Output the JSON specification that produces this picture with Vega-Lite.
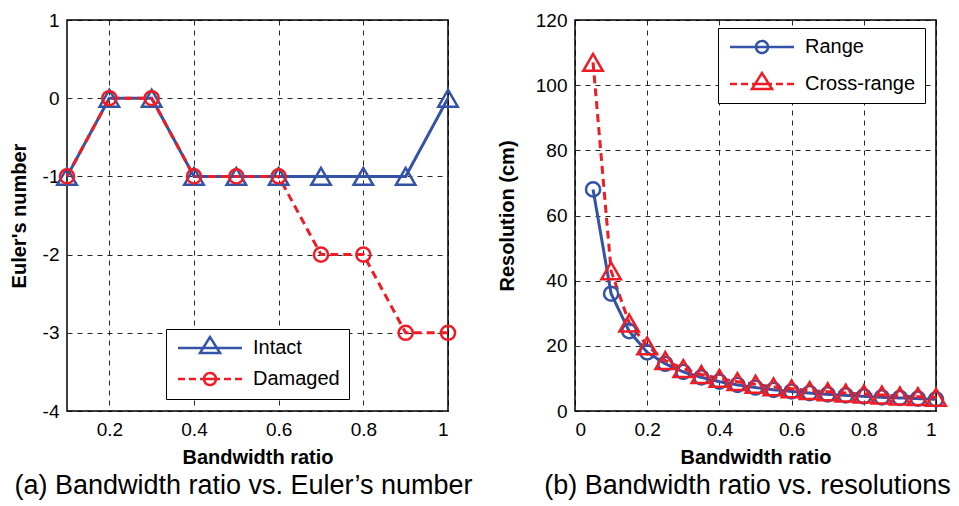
{
  "$schema": "https://vega.github.io/schema/vega-lite/v6.json",
  "background": "white",
  "padding": {"left": 8, "top": 10, "right": 2, "bottom": 0},
  "spacing": 22,
  "resolve": {
    "scale": {"color": "independent", "shape": "independent", "size": "independent", "strokeDash": "independent"},
    "legend": {"color": "independent"}
  },
  "config": {
    "font": "Liberation Sans",
    "view": {"stroke": "black", "strokeWidth": 1.5},
    "axis": {
      "labelFont": "Liberation Sans",
      "labelFontSize": 19,
      "labelColor": "black",
      "titleFont": "Liberation Sans",
      "titleFontSize": 20,
      "titleFontWeight": "bold",
      "titleColor": "black",
      "grid": true,
      "gridColor": "black",
      "gridDash": [5, 5],
      "gridWidth": 1,
      "gridOpacity": 0.85,
      "domain": false,
      "ticks": false,
      "labelPadding": 8
    },
    "axisX": {"labelPadding": 9, "titlePadding": 8},
    "legend": {
      "labelFont": "Liberation Sans",
      "labelFontSize": 20,
      "labelColor": "black",
      "strokeColor": "black",
      "fillColor": "white",
      "padding": 9,
      "symbolSize": 4,
      "symbolStrokeWidth": 2.5,
      "symbolOffset": 25,
      "labelOffset": 33,
      "rowPadding": 10
    },
    "title": {"font": "Liberation Sans", "fontSize": 27, "fontWeight": "normal", "color": "black"}
  },
  "hconcat": [
    {
      "width": 381,
      "height": 391,
      "title": {"text": "(a) Bandwidth ratio vs. Euler’s number", "orient": "bottom", "anchor": "middle", "frame": "group", "dx": -14, "offset": 6},
      "data": {
        "values": [
          {"x": 0.1, "y": -1, "series": "Intact"},
          {"x": 0.2, "y": 0, "series": "Intact"},
          {"x": 0.3, "y": 0, "series": "Intact"},
          {"x": 0.4, "y": -1, "series": "Intact"},
          {"x": 0.5, "y": -1, "series": "Intact"},
          {"x": 0.6, "y": -1, "series": "Intact"},
          {"x": 0.7, "y": -1, "series": "Intact"},
          {"x": 0.8, "y": -1, "series": "Intact"},
          {"x": 0.9, "y": -1, "series": "Intact"},
          {"x": 1.0, "y": 0, "series": "Intact"},
          {"x": 0.1, "y": -1, "series": "Damaged"},
          {"x": 0.2, "y": 0, "series": "Damaged"},
          {"x": 0.3, "y": 0, "series": "Damaged"},
          {"x": 0.4, "y": -1, "series": "Damaged"},
          {"x": 0.5, "y": -1, "series": "Damaged"},
          {"x": 0.6, "y": -1, "series": "Damaged"},
          {"x": 0.7, "y": -2, "series": "Damaged"},
          {"x": 0.8, "y": -2, "series": "Damaged"},
          {"x": 0.9, "y": -3, "series": "Damaged"},
          {"x": 1.0, "y": -3, "series": "Damaged"}
        ]
      },
      "encoding": {
        "x": {
          "field": "x", "type": "quantitative",
          "scale": {"domain": [0.1, 1], "nice": false, "zero": false},
          "axis": {"values": [0.2, 0.4, 0.6, 0.8, 1], "title": "Bandwidth ratio", "labelExpr": "'' + datum.value"}
        },
        "y": {
          "field": "y", "type": "quantitative",
          "scale": {"domain": [-4, 1], "nice": false},
          "axis": {"values": [-4, -3, -2, -1, 0, 1], "title": "Euler's number", "labelExpr": "'' + datum.value", "titlePadding": 13}
        },
        "color": {
          "field": "series", "type": "nominal",
          "scale": {"domain": ["Intact", "Damaged"], "range": ["#3353a6", "#ee1d25"]},
          "legend": {
            "title": null, "orient": "none", "legendX": 99, "legendY": 309,
            "encoding": {
              "symbols": {
                "shape": {
                  "condition": {"test": "datum.value === 'Damaged'", "value": "M-32,0H-25M-21,0H-14M-10,0H10M14,0H21M25,0H32M6,0A6,6 0 1,1 -6,0A6,6 0 1,1 6,0"},
                  "value": "M-32,0H32M0,-11L10,5L-10,5Z"
                },
                "fill": {"value": "transparent"},
                "strokeDash": {"value": [1, 0]}
              }
            }
          }
        }
      },
      "layer": [
        {
          "mark": {"type": "line", "strokeWidth": 3},
          "encoding": {
            "strokeDash": {"field": "series", "type": "nominal", "scale": {"range": [[8, 5], [1, 0]]}, "legend": null}
          }
        },
        {
          "mark": {"type": "point", "filled": false, "strokeWidth": 2.5, "opacity": 1},
          "encoding": {
            "shape": {"field": "series", "type": "nominal", "scale": {"range": ["circle", "triangle-up"]}, "legend": null},
            "size": {"field": "series", "type": "nominal", "scale": {"range": [200, 380]}, "legend": null}
          }
        }
      ]
    },
    {
      "width": 361,
      "height": 391,
      "title": {"text": "(b) Bandwidth ratio vs. resolutions", "orient": "bottom", "anchor": "middle", "frame": "group", "dx": -8, "offset": 6},
      "data": {
        "values": [
          {"x": 0.05, "y": 68, "series": "Range"},
          {"x": 0.1, "y": 36, "series": "Range"},
          {"x": 0.15, "y": 24.5, "series": "Range"},
          {"x": 0.2, "y": 18, "series": "Range"},
          {"x": 0.25, "y": 14.5, "series": "Range"},
          {"x": 0.3, "y": 12, "series": "Range"},
          {"x": 0.35, "y": 10.3, "series": "Range"},
          {"x": 0.4, "y": 9, "series": "Range"},
          {"x": 0.45, "y": 8, "series": "Range"},
          {"x": 0.5, "y": 7.2, "series": "Range"},
          {"x": 0.55, "y": 6.5, "series": "Range"},
          {"x": 0.6, "y": 6, "series": "Range"},
          {"x": 0.65, "y": 5.5, "series": "Range"},
          {"x": 0.7, "y": 5.1, "series": "Range"},
          {"x": 0.75, "y": 4.8, "series": "Range"},
          {"x": 0.8, "y": 4.5, "series": "Range"},
          {"x": 0.85, "y": 4.2, "series": "Range"},
          {"x": 0.9, "y": 4, "series": "Range"},
          {"x": 0.95, "y": 3.8, "series": "Range"},
          {"x": 1.0, "y": 3.6, "series": "Range"},
          {"x": 0.05, "y": 107, "series": "Cross-range"},
          {"x": 0.1, "y": 43, "series": "Cross-range"},
          {"x": 0.15, "y": 27, "series": "Cross-range"},
          {"x": 0.2, "y": 20, "series": "Cross-range"},
          {"x": 0.25, "y": 15.5, "series": "Cross-range"},
          {"x": 0.3, "y": 13, "series": "Cross-range"},
          {"x": 0.35, "y": 11.2, "series": "Cross-range"},
          {"x": 0.4, "y": 10, "series": "Cross-range"},
          {"x": 0.45, "y": 9, "series": "Cross-range"},
          {"x": 0.5, "y": 8.2, "series": "Cross-range"},
          {"x": 0.55, "y": 7.4, "series": "Cross-range"},
          {"x": 0.6, "y": 6.8, "series": "Cross-range"},
          {"x": 0.65, "y": 6.3, "series": "Cross-range"},
          {"x": 0.7, "y": 5.9, "series": "Cross-range"},
          {"x": 0.75, "y": 5.5, "series": "Cross-range"},
          {"x": 0.8, "y": 5.2, "series": "Cross-range"},
          {"x": 0.85, "y": 4.9, "series": "Cross-range"},
          {"x": 0.9, "y": 4.6, "series": "Cross-range"},
          {"x": 0.95, "y": 4.4, "series": "Cross-range"},
          {"x": 1.0, "y": 4.2, "series": "Cross-range"}
        ]
      },
      "encoding": {
        "x": {
          "field": "x", "type": "quantitative",
          "scale": {"domain": [0, 1], "nice": false},
          "axis": {"values": [0, 0.2, 0.4, 0.6, 0.8, 1], "title": "Bandwidth ratio", "labelExpr": "'' + datum.value"}
        },
        "y": {
          "field": "y", "type": "quantitative",
          "scale": {"domain": [0, 120], "nice": false},
          "axis": {"values": [0, 20, 40, 60, 80, 100, 120], "title": "Resolution (cm)", "labelExpr": "'' + datum.value", "titlePadding": 18}
        },
        "color": {
          "field": "series", "type": "nominal",
          "scale": {"domain": ["Range", "Cross-range"], "range": ["#3353a6", "#ee1d25"]},
          "legend": {
            "title": null, "orient": "none", "legendX": 143, "legendY": 8,
            "encoding": {
              "symbols": {
                "shape": {
                  "condition": {"test": "datum.value === 'Cross-range'", "value": "M-32,0H-25M-21,0H-14M-10,0H10M14,0H21M25,0H32M0,-11L10,5L-10,5Z"},
                  "value": "M-32,0H32M6,0A6,6 0 1,1 -6,0A6,6 0 1,1 6,0"
                },
                "fill": {"value": "transparent"},
                "strokeDash": {"value": [1, 0]}
              }
            }
          }
        }
      },
      "layer": [
        {
          "mark": {"type": "line", "strokeWidth": 3},
          "encoding": {
            "strokeDash": {"field": "series", "type": "nominal", "scale": {"range": [[8, 5], [1, 0]]}, "legend": null}
          }
        },
        {
          "mark": {"type": "point", "filled": false, "strokeWidth": 2.5, "opacity": 1},
          "encoding": {
            "shape": {"field": "series", "type": "nominal", "scale": {"range": ["triangle-up", "circle"]}, "legend": null},
            "size": {"field": "series", "type": "nominal", "scale": {"range": [380, 200]}, "legend": null}
          }
        }
      ]
    }
  ]
}
